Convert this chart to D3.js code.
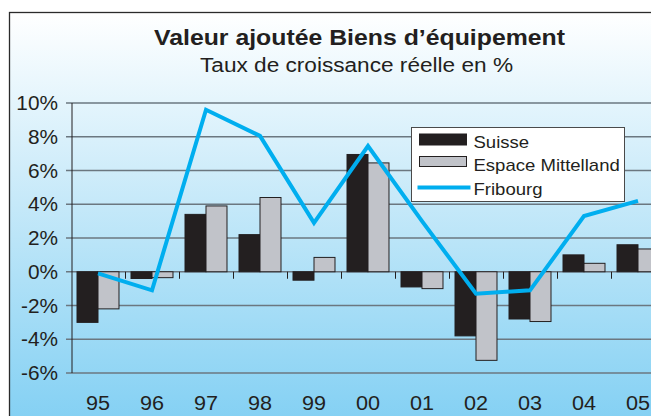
<!DOCTYPE html>
<html>
<head>
<meta charset="utf-8">
<script src="https://cdn.jsdelivr.net/npm/d3@7"></script>
<style>
  body { margin: 0; background: #fff; }
  svg { display: block; font-family: "Liberation Sans", Arial, sans-serif; }
</style>
</head>
<body>
<div id="chart"></div>
<script>
// data
var years = ["95", "96", "97", "98", "99", "00", "01", "02", "03", "04", "05"];
var suisse = [-3.0, -0.4, 3.4, 2.2, -0.5, 6.95, -0.9, -3.8, -2.8, 1.0, 1.6];
var espace = [-2.2, -0.35, 3.9, 4.4, 0.85, 6.45, -1.0, -5.25, -2.95, 0.5, 1.35];
var fribourg = [-0.1, -1.1, 9.6, 8.05, 2.9, 7.45, 3.0, -1.3, -1.1, 3.3, 4.2];
var yTicks = [-6, -4, -2, 0, 2, 4, 6, 8, 10];
var seriesNames = ["Suisse", "Espace Mittelland", "Fribourg"];

// size
var W = 651, H = 416;
var colSuisse = "#231f20", colEspace = "#c1c3c9", colFribourg = "#00aeef", colGrid = "#6b7780";

var svg = d3.select("#chart").append("svg").attr("width", W).attr("height", H);

// stretch text horizontally (the original type is wider than Arial)
function widen(sel, k) {
    sel.each(function() {
        var w = this.getComputedTextLength();
        d3.select(this).attr("textLength", w * k).attr("lengthAdjust", "spacingAndGlyphs");
    });
}

// background gradient
var defs = svg.append("defs");
var grad = defs.append("linearGradient").attr("id", "bg")
    .attr("x1", 0).attr("y1", 0).attr("x2", 0).attr("y2", 1);
grad.append("stop").attr("offset", "0%").attr("stop-color", "#ffffff");
grad.append("stop").attr("offset", "45%").attr("stop-color", "#c6e9f9");
grad.append("stop").attr("offset", "100%").attr("stop-color", "#80cff3");

svg.append("rect")
    .attr("x", 9.5).attr("y", 12.5)
    .attr("width", 700).attr("height", 420)
    .attr("fill", "url(#bg)")
    .attr("stroke", "#2b2b2b").attr("stroke-width", 1.3);

// scales
var x = d3.scaleBand().domain(years).range([71, 665]).paddingInner(0).paddingOuter(0);
var x1 = d3.scaleBand().domain(["s", "e"]).range([0, x.bandwidth()]).paddingInner(0).paddingOuter(0.286);
var y = d3.scaleLinear().domain([-6, 10]).range([373, 103]);

// gridlines
svg.append("g").selectAll("line").data(yTicks).enter().append("line")
    .attr("x1", 66).attr("x2", W)
    .attr("y1", function(d) { return y(d); })
    .attr("y2", function(d) { return y(d); })
    .attr("stroke", colGrid).attr("stroke-width", 1.6);

// y labels
svg.append("g").selectAll("text").data(yTicks).enter().append("text")
    .attr("x", 58).attr("y", function(d) { return y(d); })
    .attr("dy", "0.36em")
    .attr("text-anchor", "end")
    .attr("font-size", 20)
    .attr("fill", "#231f20")
    .text(function(d) { return d + "%"; })
    .call(widen, 1.04);

// x axis ticks (between categories, below zero line)
svg.append("g").selectAll("line").data(years.slice(1)).enter().append("line")
    .attr("x1", function(d) { return x(d) + 0.5; })
    .attr("x2", function(d) { return x(d) + 0.5; })
    .attr("y1", y(0)).attr("y2", y(0) + 7)
    .attr("stroke", "#231f20").attr("stroke-width", 1);

// bars
var bars = svg.append("g");
years.forEach(function(yr, i) {
    [["s", suisse[i], colSuisse], ["e", espace[i], colEspace]].forEach(function(b) {
        bars.append("rect")
            .attr("x", x(yr) + x1(b[0]))
            .attr("width", x1.bandwidth())
            .attr("y", y(Math.max(0, b[1])))
            .attr("height", Math.abs(y(b[1]) - y(0)))
            .attr("fill", b[2])
            .attr("stroke", "#231f20").attr("stroke-width", 1);
    });
});

// y axis line
svg.append("line")
    .attr("x1", 72).attr("x2", 72)
    .attr("y1", y(10)).attr("y2", y(-6))
    .attr("stroke", "#231f20").attr("stroke-width", 1);

// x labels
svg.append("g").selectAll("text").data(years).enter().append("text")
    .attr("x", function(d) { return x(d) + x.bandwidth() / 2; })
    .attr("y", 410)
    .attr("text-anchor", "middle")
    .attr("font-size", 20)
    .attr("fill", "#231f20")
    .text(function(d) { return d; })
    .call(widen, 1.08);

// Fribourg line
var line = d3.line()
    .x(function(d, i) { return x(years[i]) + x.bandwidth() / 2; })
    .y(function(d) { return y(d); });
svg.append("path")
    .datum(fribourg)
    .attr("d", line)
    .attr("fill", "none")
    .attr("stroke", colFribourg)
    .attr("stroke-width", 4)
    .attr("stroke-linejoin", "miter");

// titles
svg.append("text")
    .attr("x", 359.5).attr("y", 45)
    .attr("text-anchor", "middle")
    .attr("font-size", 22).attr("font-weight", "bold")
    .attr("fill", "#231f20")
    .attr("textLength", 411).attr("lengthAdjust", "spacingAndGlyphs")
    .text("Valeur ajoutée Biens d’équipement");
svg.append("text")
    .attr("x", 356.5).attr("y", 72)
    .attr("text-anchor", "middle")
    .attr("font-size", 20)
    .attr("fill", "#231f20")
    .attr("textLength", 313).attr("lengthAdjust", "spacingAndGlyphs")
    .text("Taux de croissance réelle en %");

// legend
var legend = svg.append("g").attr("transform", "translate(411.5,127.5)");
legend.append("rect")
    .attr("width", 213).attr("height", 74)
    .attr("fill", "#fff").attr("stroke", "#4a4a4a").attr("stroke-width", 1);
legend.append("rect")
    .attr("x", 8).attr("y", 6.5).attr("width", 47).attr("height", 11)
    .attr("fill", colSuisse).attr("stroke", "#231f20");
legend.append("rect")
    .attr("x", 8).attr("y", 29).attr("width", 47).attr("height", 10)
    .attr("fill", colEspace).attr("stroke", "#231f20");
legend.append("line")
    .attr("x1", 6).attr("x2", 59).attr("y1", 60).attr("y2", 60)
    .attr("stroke", colFribourg).attr("stroke-width", 4);
legend.selectAll("text.lg").data(seriesNames).enter().append("text")
    .attr("class", "lg")
    .attr("x", 62)
    .attr("y", function(d, i) { return 20 + i * 23.5; })
    .attr("font-size", 17)
    .attr("fill", "#231f20")
    .text(function(d) { return d; })
    .call(widen, 1.09);
</script>
</body>
</html>
